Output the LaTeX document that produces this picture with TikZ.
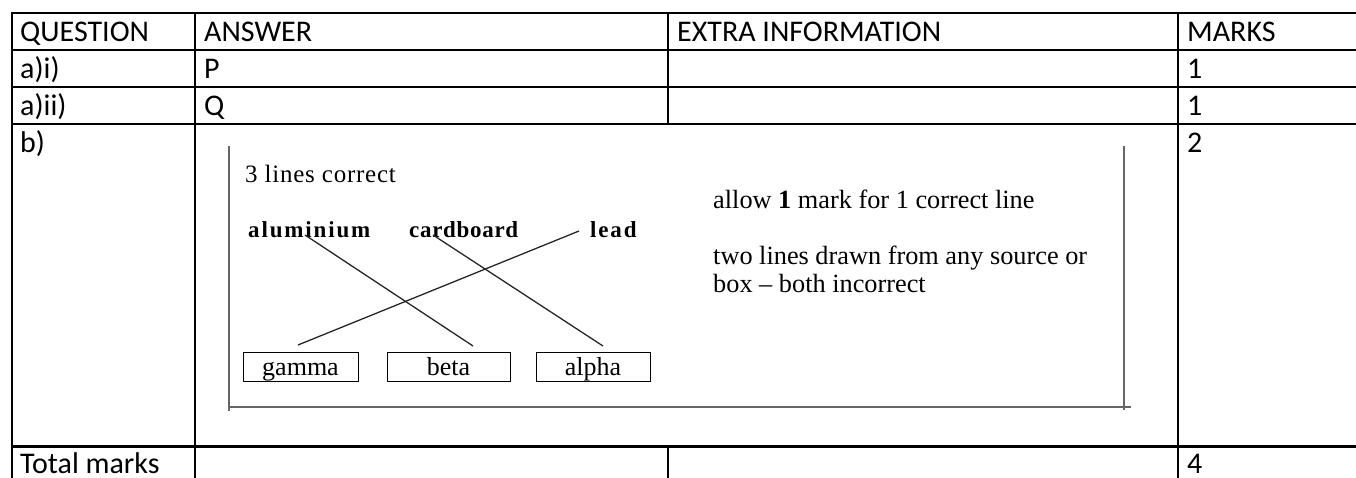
\documentclass[tikz,border=0pt]{standalone}
\usepackage{fontspec}
\setmainfont{Carlito}
\newfontfamily\tms{Liberation Serif}
\newfontfamily\tmsls[LetterSpace=8]{Liberation Serif}
\newfontfamily\tmslt[LetterSpace=3]{Liberation Serif}
\newfontfamily\tmsthree[LetterSpace=3]{Liberation Serif}
\begin{document}
\begin{tikzpicture}[x=1pt,y=-1pt,
  tbl/.style={line width=1.6pt,black},
  tblthick/.style={line width=3pt,black},
  cell/.style={anchor=base west,inner sep=0pt,font=\fontsize{30}{34}\selectfont},
  frame/.style={line width=1.3pt,black!60},
  serif/.style={anchor=base west,inner sep=0pt,font=\tms\fontsize{26.3}{30}\selectfont},
  metal/.style={anchor=base west,inner sep=0pt,font=\tmsls\bfseries\fontsize{23}{28}\selectfont},
  radbox/.style={draw,line width=1pt,minimum height=29pt,inner sep=0pt,text height=20pt,text depth=3pt,font=\tms\fontsize{26}{30}\selectfont},
  link/.style={line width=1.3pt,black!85}]
\useasboundingbox (0,0) rectangle (1356,477);
% table grid
\draw[tbl] (12,13) -- (1360,13);
\draw[tbl] (12,50) -- (1360,50);
\draw[tbl] (12,87) -- (1360,87);
\draw[tbl] (12,124) -- (1360,124);
\draw[tblthick] (12,446) -- (1360,446);
\draw[tbl] (12,12) -- (12,480);
\draw[tbl] (195,12) -- (195,480);
\draw[tbl] (668,12) -- (668,124);
\draw[tbl] (668,446) -- (668,480);
\draw[tbl] (1178,12) -- (1178,480);
% table texts
\node[cell] (hq) at (20,41) {QUESTION};
\node[cell] (ha) at (204,41) {ANSWER};
\node[cell] (he) at (677,41) {EXTRA INFORMATION};
\node[cell] (hm) at (1187,41) {MARKS};
\node[cell] (q1) at (20,78) {a)i)};
\node[cell] (a1) at (204,78) {P};
\node[cell] (m1) at (1187,78) {1};
\node[cell] (q2) at (20,115) {a)ii)};
\node[cell] (a2) at (204,115) {Q};
\node[cell] (m2) at (1187,115) {1};
\node[cell] (q3) at (20,152) {b)};
\node[cell] (m3) at (1187,152) {2};
\node[cell] (qt) at (20,473) {Total marks};
\node[cell] (mt) at (1187,473) {4};
% inner figure frame
\draw[frame] (229,146) -- (229,411);
\draw[frame] (1124,146) -- (1124,410);
\draw[frame] (229,407) -- (1131,407);
% inner figure texts
\node[serif,font=\tmsthree\fontsize{25}{29}\selectfont] (t3) at (245,182) {3 lines correct};
\node[metal] (al) at (248,237) {aluminium};
\node[metal,font=\tmslt\bfseries\fontsize{23}{28}\selectfont] (cb) at (409,237) {cardboard};
\node[metal] (pb) at (590,237) {lead};
\node[serif] (x1) at (713,208) {allow \textbf{1} mark for 1 correct line};
\node[serif] (x2) at (713,264) {two lines drawn from any source or};
\node[serif] (x3) at (713,292) {box – both incorrect};
% boxes
\node[radbox,minimum width=115pt] (gam) at (300.5,366.5) {gamma};
\node[radbox,minimum width=123pt] (bet) at (448.5,366.5) {beta};
\node[radbox,minimum width=114pt] (alp) at (593,366.5) {alpha};
% line ends
\coordinate (alS) at (305,235);
\coordinate (cbS) at (433,235);
\coordinate (pbS) at (579,231);
\coordinate (betE) at (473,346);
\coordinate (alpE) at (603,346);
\coordinate (gamE) at (298,345);
\draw[link] (alS) -- (betE);
\draw[link] (cbS) -- (alpE);
\draw[link] (pbS) -- (gamE);
\end{tikzpicture}
\end{document}
